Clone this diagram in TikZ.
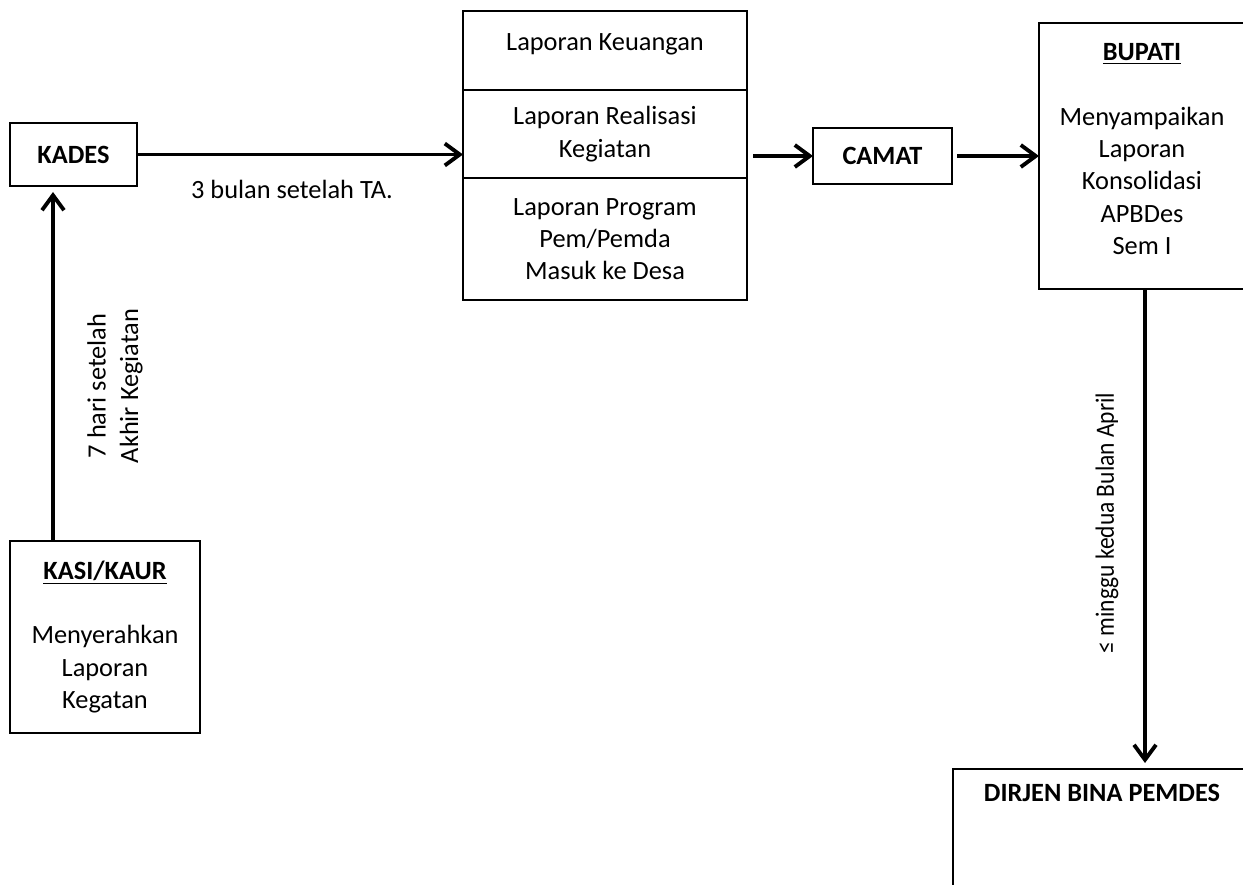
\documentclass[tikz,border=0pt]{standalone}
\usepackage{fontspec}
\setmainfont{Carlito}
\usetikzlibrary{positioning,arrows.meta}

\begin{document}
\begin{tikzpicture}[>={Straight Barb[length=8.5pt,width=12.5pt]},font=\fontsize{15pt}{18.4pt}\selectfont,
  box node/.style={draw,line width=1pt,rectangle,align=center,inner sep=0pt,outer sep=0pt},
  flow arrow/.style={->,line width=2.2pt}]
  \useasboundingbox (0,0) rectangle (24.86,-17.70);

  \node[box node,minimum width=2.54cm,minimum height=1.26cm] (kades) at (1.47,-3.09) {\textbf{KADES}};
  \node[box node,minimum width=3.80cm,minimum height=3.84cm] (kasi) at (2.10,-12.74)
    {\underline{\textbf{KASI/KAUR}}\\[18.4pt]Menyerahkan\\Laporan\\Kegatan};

  % laporan yang dikirim
  \node[box node,line width=1.2pt,minimum width=5.68cm,minimum height=1.58cm,text depth=10pt] (lapkeu) at (12.10,-1.01) {Laporan Keuangan};
  \node[box node,line width=1.2pt,minimum width=5.68cm,minimum height=1.76cm] (lapreal) [below=0pt of lapkeu] {Laporan Realisasi\\Kegiatan};
  \node[box node,line width=1.2pt,minimum width=5.68cm,minimum height=2.44cm] (lapprog) [below=0pt of lapreal] {Laporan Program\\Pem/Pemda\\Masuk ke Desa};

  \node[box node,minimum width=2.78cm,minimum height=1.12cm] (camat) at (17.65,-3.12) {\textbf{CAMAT}};
  \node[box node,minimum width=4.12cm,minimum height=5.32cm,text depth=8pt] (bupati) at (22.84,-3.12)
    {\underline{\textbf{BUPATI}}\\[18.4pt]Menyampaikan\\Laporan\\Konsolidasi\\APBDes\\Sem I};
  \node[box node,minimum width=5.96cm,text height=0.64cm,text depth=3cm,anchor=north] (dirjen) at (22.04,-15.38) {\textbf{DIRJEN BINA PEMDES}};

  \coordinate (kades in) at ([xshift=0.86cm,yshift=-0.12cm]kades.south west);

  \draw[flow arrow] (kades in |- kasi.north) -- (kades in)
    node[midway,xshift=1.24cm,yshift=-0.39cm,rotate=90,align=center] {7 hari setelah\\Akhir Kegiatan};
  \draw[flow arrow] (kades.east) -- (kades.east -| lapreal.west)
    node[midway,below=0.35cm,xshift=-0.16cm] {3 bulan setelah TA.};
  \draw[flow arrow,shorten <=0.12cm] (lapreal.east |- camat.west) -- (camat.west);
  \draw[flow arrow,shorten <=0.1cm] (camat.east) -- (bupati.west);
  \draw[flow arrow,shorten >=0.12cm] ([xshift=0.06cm]bupati.south) -- ([xshift=0.06cm]bupati.south |- dirjen.north)
    node[midway,xshift=-0.76cm,yshift=0.12cm,rotate=90] {\scalebox{0.89}[1]{≤ minggu kedua Bulan April}};
\end{tikzpicture}
\end{document}
